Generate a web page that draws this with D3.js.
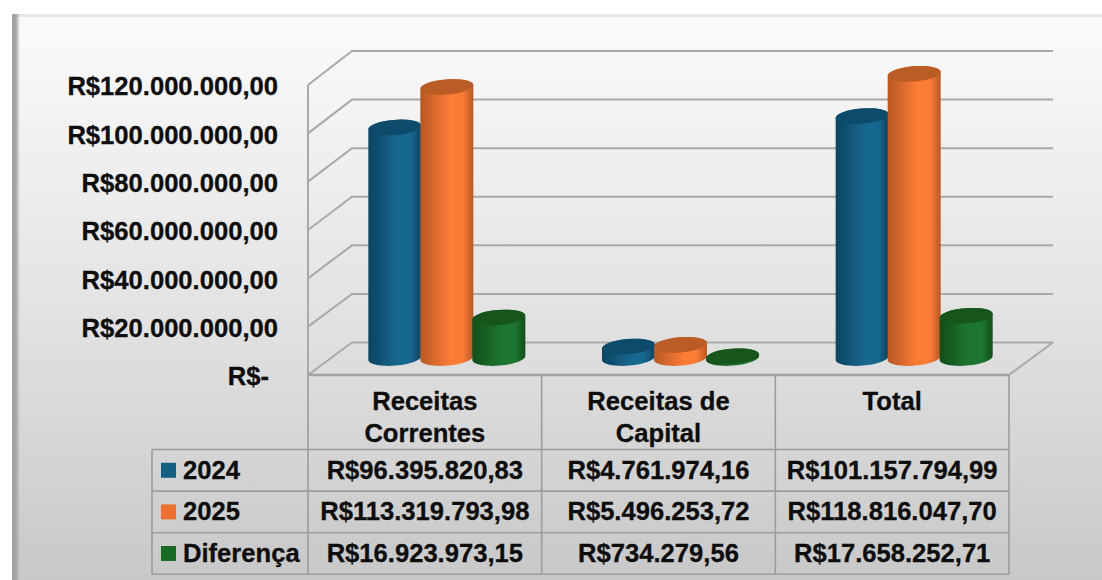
<!DOCTYPE html>
<html>
<head>
<meta charset="utf-8">
<style>
    html, body { margin: 0; padding: 0; background: #fff; }
    svg { display: block; }
    text { font-family: "Liberation Sans", Arial, sans-serif; font-weight: bold; font-size: 25.6px; fill: #0d0d0d; stroke: #0d0d0d; stroke-width: 0.3px; }
    .wall { stroke: #a9a9a9; stroke-width: 2px; fill: none; }
    .cell { stroke: #9c9c9c; stroke-width: 1.6px; fill: none; }
</style>
</head>
<body>
<svg width="1102" height="580"></svg>
<script src="https://cdn.jsdelivr.net/npm/d3@7"></script>
<script>

    var categories = [["Receitas", "Correntes"], ["Receitas de", "Capital"], ["Total"]];
    var seriesNames = ["2024", "2025", "Diferença"];
    var values2024 = [96395820.83, 4761974.16, 101157794.99];
    var values2025 = [113319793.98, 5496253.72, 118816047.70];
    var valuesDiff = [16923973.15, 734279.56, 17658252.71];
    var tickValues = [0, 20000000, 40000000, 60000000, 80000000, 100000000, 120000000];
    var seriesValues = [values2024, values2025, valuesDiff];

    var keyColors = ["#156082", "#ed7030", "#196b24"];
    var cylColors = [
        {edge: "#0d4360", mid: "#17678f", top: "#0f4c6c"},
        {edge: "#b65825", mid: "#fb7b36", top: "#b95b25"},
        {edge: "#124d1c", mid: "#1f7630", top: "#15561e"}
    ];

    var svg = d3.select("svg");
    var defs = svg.append("defs");

    // panel background
    var bg = defs.append("linearGradient").attr("id", "panel")
        .attr("x1", 0).attr("y1", 0).attr("x2", 0).attr("y2", 1);
    bg.append("stop").attr("offset", 0).attr("stop-color", "#fbfbfb");
    bg.append("stop").attr("offset", 0.5).attr("stop-color", "#e4e4e4");
    bg.append("stop").attr("offset", 1).attr("stop-color", "#c8c8c8");

    var edge = defs.append("linearGradient").attr("id", "edge");
    edge.append("stop").attr("offset", 0).attr("stop-color", "#a0a0a0");
    edge.append("stop").attr("offset", 0.5).attr("stop-color", "#a6a6a6");
    edge.append("stop").attr("offset", 1).attr("stop-color", "#a6a6a6").attr("stop-opacity", 0);

    svg.append("rect").attr("x", 12).attr("y", 14).attr("width", 1090).attr("height", 566).attr("fill", "url(#panel)");
    svg.append("rect").attr("x", 12).attr("y", 14).attr("width", 1090).attr("height", 3).attr("fill", "#e6e6e6");
    svg.append("rect").attr("x", 12).attr("y", 14).attr("width", 8).attr("height", 566).attr("fill", "url(#edge)");

    var soft = defs.append("filter").attr("id", "soft");
    soft.append("feGaussianBlur").attr("stdDeviation", 0.6);

    cylColors.forEach(function(c, i) {
        var g = defs.append("linearGradient").attr("id", "cyl" + i);
        g.append("stop").attr("offset", 0).attr("stop-color", c.edge);
        g.append("stop").attr("offset", 0.55).attr("stop-color", c.mid);
        g.append("stop").attr("offset", 0.8).attr("stop-color", c.mid);
        g.append("stop").attr("offset", 1).attr("stop-color", c.edge);
    });

    // 3d box
    var depthX = 44;
    var plotLeft = 308, plotRight = 1009, plotBottom = 375, plotTop = 85;

    var yFront = d3.scaleLinear().domain([0, 120000000]).range([plotBottom, plotTop]);
    var yBack = d3.scaleLinear().domain([0, 120000000]).range([342.5, 51]);
    var xCat = d3.scaleBand().domain(d3.range(categories.length)).range([plotLeft, plotRight]);
    var xSeries = d3.scaleBand().domain(d3.range(seriesNames.length)).range([-78, 78]);

    // the cylinders stand in the middle of the floor
    var barBase = 358;
    var barHeight = d3.scaleLinear().domain([0, 120000000]).range([0, 287]);

    var wall = svg.append("g");
    tickValues.forEach(function(t) {
        wall.append("path").attr("class", "wall")
            .attr("d", d3.line()([[plotLeft, yFront(t)], [plotLeft + depthX, yBack(t)], [plotRight + depthX, yBack(t)]]));
    });
    wall.append("path").attr("class", "wall")
        .attr("d", d3.line()([[plotRight, plotBottom], [plotRight + depthX, yBack(0)]]));
    wall.append("path").attr("class", "wall")
        .attr("d", d3.line()([[plotLeft, plotTop], [plotLeft, plotBottom]]));

    // y axis labels
    var locale = d3.formatLocale({decimal: ",", thousands: ".", grouping: [3], currency: ["R$", ""]});
    var money = locale.format("$,.2f");

    var axis = svg.append("g")
        .attr("transform", "translate(278,0)")
        .call(d3.axisLeft(yFront).tickValues(tickValues).tickSize(0).tickPadding(0)
            .tickFormat(function(d) { return d === 0 ? "R$-" : money(d); }));
    axis.select(".domain").remove();
    axis.selectAll("text")
        .attr("dy", "0.38em")
        .attr("dx", function(d) { return d === 0 ? -9 : 0; });

    // cylinders
    var rx = xSeries.bandwidth() / 2 + 0.5, ry = 7.6, tilt = 2.2, rot = -4.5;

    var bars = svg.append("g").attr("filter", "url(#soft)");
    categories.forEach(function(cat, c) {
        seriesValues.forEach(function(vals, s) {
            var cx = xCat(c) + xCat.bandwidth() / 2 + depthX / 2 + xSeries(s) + xSeries.bandwidth() / 2;
            var top = barBase - barHeight(vals[c]);
            var arc = "A" + rx + "," + ry + " " + rot + " 0 ";
            bars.append("path")
                .attr("fill", "url(#cyl" + s + ")")
                .attr("d", "M" + (cx - rx) + "," + (top + tilt) +
                    "L" + (cx - rx) + "," + (barBase + tilt) +
                    arc + "0 " + (cx + rx) + "," + (barBase - tilt) +
                    "L" + (cx + rx) + "," + (top - tilt) +
                    arc + "0 " + (cx - rx) + "," + (top + tilt) + "Z");
            bars.append("ellipse")
                .attr("fill", cylColors[s].top)
                .attr("rx", rx).attr("ry", ry)
                .attr("transform", "translate(" + cx + "," + top + ") rotate(" + rot + ")");
        });
    });

    // data table
    var tableTop = plotBottom, headerBottom = 449.5, rowH = 41.6, keyLeft = 152;
    var yRow = d3.scaleBand().domain(d3.range(seriesNames.length))
        .range([headerBottom, headerBottom + rowH * seriesNames.length]);

    var table = svg.append("g");
    d3.range(categories.length + 1).forEach(function(i) {
        var x = i === categories.length ? plotRight : xCat(i);
        table.append("line").attr("class", "cell")
            .attr("x1", x).attr("x2", x).attr("y1", tableTop).attr("y2", yRow.range()[1]);
    });
    table.append("line").attr("class", "cell")
        .attr("x1", keyLeft).attr("x2", keyLeft).attr("y1", headerBottom).attr("y2", yRow.range()[1]);
    d3.range(seriesNames.length + 1).forEach(function(i) {
        var y = headerBottom + rowH * i;
        table.append("line").attr("class", "cell")
            .attr("x1", keyLeft).attr("x2", plotRight).attr("y1", y).attr("y2", y);
    });
    table.append("line").attr("stroke", "#a3a3a3").attr("stroke-width", 2.6)
        .attr("x1", plotLeft).attr("x2", plotRight).attr("y1", plotBottom).attr("y2", plotBottom);

    categories.forEach(function(lines, c) {
        var t = table.append("text").attr("text-anchor", "middle")
            .attr("x", xCat(c) + xCat.bandwidth() / 2).attr("y", 410);
        lines.forEach(function(line, i) {
            t.append("tspan").attr("x", xCat(c) + xCat.bandwidth() / 2).attr("dy", i ? 32 : 0).text(line);
        });
    });

    seriesNames.forEach(function(name, s) {
        var y = yRow(s) + yRow.bandwidth() / 2;
        table.append("rect").attr("x", 161).attr("y", y - 7.5).attr("width", 15).attr("height", 15).attr("fill", keyColors[s]);
        table.append("text").attr("x", 183).attr("y", y + 8.5).text(name);
        seriesValues[s].forEach(function(v, c) {
            table.append("text").attr("text-anchor", "middle")
                .attr("x", xCat(c) + xCat.bandwidth() / 2).attr("y", y + 8.5).text(money(v));
        });
    });

</script>
</body>
</html>
